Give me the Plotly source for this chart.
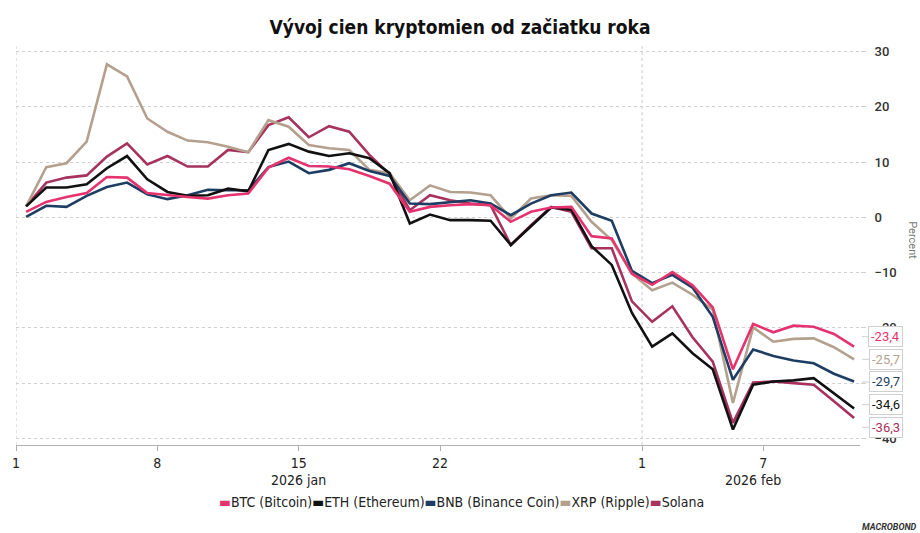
import pandas as pd
import plotly.graph_objects as go

# ---------------- data ----------------
dates = pd.date_range("2026-01-01", periods=42, freq="D")

btc = [1.0, 2.8, 3.7, 4.4, 7.3, 7.2, 4.4, 4.0, 3.7, 3.4, 4.0, 4.3, 9.0, 10.8, 9.3, 9.2, 8.7, 7.5, 6.1, 1.0,
       1.9, 2.2, 2.4, 2.2, -0.8, 1.0, 1.8, 1.9, -3.4, -3.8, -10.2, -12.2, -9.9, -12.3, -16.3, -27.5, -19.3,
       -20.8, -19.6, -19.8, -21.1, -23.4]
eth = [2.0, 5.4, 5.4, 6.0, 8.9, 11.1, 6.9, 4.6, 3.9, 4.0, 5.2, 4.7, 12.2, 13.3, 11.9, 11.1, 11.6, 10.7, 8.0, -1.1,
       0.5, -0.5, -0.5, -0.6, -5.0, -1.6, 1.8, 1.4, -5.2, -8.6, -17.3, -23.4, -21.0, -24.6, -27.5, -38.4, -30.3,
       -29.7, -29.5, -29.1, -31.8, -34.6]
bnb = [0.1, 2.1, 1.9, 3.9, 5.5, 6.3, 4.2, 3.3, 4.0, 5.0, 4.9, 4.9, 9.1, 10.1, 8.0, 8.6, 9.8, 8.4, 7.5, 2.5,
       2.4, 2.8, 3.1, 2.5, 0.4, 2.5, 4.0, 4.5, 0.7, -0.6, -9.7, -11.9, -10.4, -12.7, -18.0, -29.4, -23.9,
       -25.1, -25.9, -26.4, -28.3, -29.7]
xrp = [2.0, 9.1, 9.8, 13.7, 27.7, 25.5, 17.9, 15.5, 13.9, 13.6, 12.8, 11.8, 17.6, 16.4, 13.1, 12.5, 12.2, 8.6, 8.0, 3.1,
       5.8, 4.6, 4.5, 4.0, -0.2, 3.4, 4.0, 3.9, -0.8, -4.1, -10.2, -13.2, -11.8, -14.0, -16.7, -33.6, -19.9,
       -22.5, -22.0, -21.9, -23.5, -25.7]
sol = [2.0, 6.3, 7.2, 7.6, 11.0, 13.4, 9.6, 11.1, 9.2, 9.2, 12.2, 11.8, 16.7, 18.1, 14.5, 16.5, 15.5, 11.3, 7.8, 1.3,
       4.0, 3.1, 2.5, 2.2, -5.0, -1.4, 1.9, 1.0, -5.6, -5.6, -15.2, -18.9, -16.1, -21.7, -26.1, -37.2, -29.9,
       -29.7, -30.0, -30.3, -33.3, -36.3]

series_names = ["BTC (Bitcoin)", "ETH (Ethereum)", "BNB (Binance Coin)", "XRP (Ripple)", "Solana"]
series_values = [btc, eth, bnb, xrp, sol]
series_colors = ["#e5336d", "#111111", "#1d3d63", "#b4a08e", "#a7325d"]

tick_dates = ["2026-01-01", "2026-01-08", "2026-01-15", "2026-01-22", "2026-02-01", "2026-02-07"]
tick_labels = ["1", "8", "15", "22", "1", "7"]
month_labels = ["2026 jan", "2026 feb"]
month_label_dates = ["2026-01-15", "2026-02-06 12:00"]
month_starts = ["2026-01-01", "2026-02-01"]

title = "Vývoj cien kryptomien od začiatku roka"

# ---------------- layout helpers ----------------
W, H = 920, 533
L, R, T, B = 12, 860, 45, 445   # plot area in pixels


def px_x(p):
    return (p - L) / (R - L)


def px_y(p):
    return (B - p) / (B - T)


NARROW = "DejaVu Sans Condensed, Liberation Sans Narrow, sans-serif"
REG = "Roboto, Open Sans, sans-serif"

xpos = dates + pd.Timedelta(hours=12)

fig = go.Figure()
draw_order = [4, 3, 2, 1, 0]
for k in draw_order:
    fig.add_trace(go.Scatter(
        x=xpos, y=series_values[k], mode="lines", name=series_names[k],
        line=dict(color=series_colors[k], width=2.6),
        showlegend=False,
    ))

# month-start vertical dotted lines
for d in month_starts:
    fig.add_shape(type="line", xref="x", yref="paper", x0=d, x1=d, y0=0, y1=1,
                  line=dict(color="#c8c8c8", width=1, dash="dot"), layer="below")

# end-value labels (callout boxes), spread evenly around the mean
last_vals = [v[-1] for v in series_values]
order = sorted(range(5), key=lambda k: -last_vals[k])
center = sum(last_vals) / 5 + 0.15
gap = 4.1
for rank, k in enumerate(order):
    ylab = center + (2 - rank) * gap
    fig.add_annotation(
        x=px_x(862), xref="paper",
        y=ylab, yref="y",
        ax=24, ay=0, axref="pixel", ayref="pixel",
        showarrow=True, arrowhead=0, arrowwidth=1, arrowcolor="#cfcfcf",
        text=f"{last_vals[k]:.1f}".replace(".", ","),
        font=dict(family=REG, size=13, color=series_colors[k]),
        bgcolor="white", bordercolor="#cfcfcf", borderwidth=1, borderpad=2,
    )

# month labels under the day ticks
for lab, d in zip(month_labels, month_label_dates):
    fig.add_annotation(x=d, xref="x", y=px_y(480), yref="paper", text=lab, showarrow=False,
                       font=dict(family=NARROW, size=14, color="#222"), xanchor="center", yanchor="middle")

# compact legend
legend_parts = []
for name, col in zip(series_names, series_colors):
    legend_parts.append(f'<span style="color:{col}">▬</span>{name}')
fig.add_annotation(x=px_x(460), xref="paper", y=px_y(502), yref="paper",
                   text="".join(legend_parts), showarrow=False,
                   font=dict(family=NARROW, size=14, color="#222"), xanchor="center", yanchor="middle")

# axis title on the right
fig.add_annotation(x=px_x(913), xref="paper", y=px_y(240), yref="paper", text="Percent",
                   textangle=90, showarrow=False, font=dict(family=REG, size=11, color="#777"),
                   xanchor="center", yanchor="middle")

# source mark
fig.add_annotation(x=px_x(919), xref="paper", y=px_y(527), yref="paper", text="<b><i>MACROBOND</i></b>",
                   showarrow=False, font=dict(family=REG, size=9, color="#333"),
                   xanchor="right", yanchor="middle")

end_range = dates[-1] + pd.Timedelta(hours=19)
fig.update_layout(
    width=W, height=H,
    margin=dict(l=L, r=W - R, t=T, b=H - B),
    paper_bgcolor="white", plot_bgcolor="white",
    title=dict(text=f"<b>{title}</b>", x=460 / W, xref="container", xanchor="center",
               y=1 - 27 / H, yref="container", yanchor="middle",
               font=dict(family=NARROW, size=19, color="#111")),
    showlegend=False,
    xaxis=dict(
        type="date", range=[dates[0], end_range],
        tickvals=tick_dates, ticktext=tick_labels,
        showgrid=False, zeroline=False,
        showline=True, linecolor="#b0b0b0", linewidth=1,
        ticks="outside", ticklen=5, tickcolor="#b0b0b0",
        tickfont=dict(family=NARROW, size=14, color="#222"),
        ticklabeloverflow="allow",
    ),
    yaxis=dict(
        side="right", range=[-41.2, 31.2], dtick=10, tick0=0,
        showgrid=True, gridcolor="#cfcfcf", griddash="dot", gridwidth=1,
        zeroline=False, showline=False,
        ticks="outside", ticklen=5, tickcolor="#cfcfcf",
        tickfont=dict(family=REG, size=13, color="#333", weight=500),
        ticklabelstandoff=6,
    ),
)

fig.write_html(
    "out.html",
    config={"displayModeBar": False},
    post_script="document.body.style.margin='0';document.body.style.overflow='hidden';",
)
